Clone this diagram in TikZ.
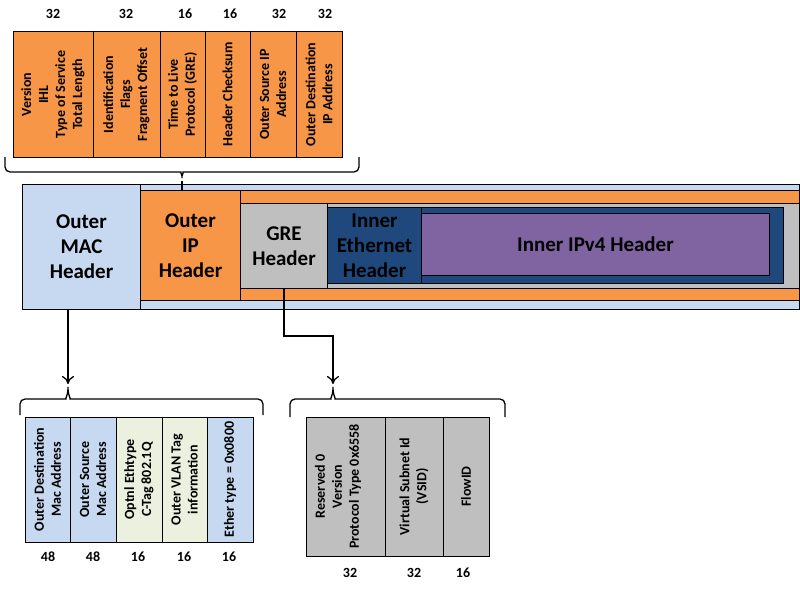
\documentclass[tikz,border=0pt]{standalone}
\usepackage{fontspec}
\setmainfont{Carlito}
\usetikzlibrary{arrows.meta}
\definecolor{macblue}{RGB}{198,217,241}
\definecolor{iporange}{RGB}{247,150,70}
\definecolor{gregray}{RGB}{191,191,191}
\definecolor{ethblue}{RGB}{31,73,125}
\definecolor{ippurple}{RGB}{128,100,162}
\definecolor{vlangreen}{RGB}{235,241,222}
\begin{document}
\begin{tikzpicture}[x=1pt,y=-1pt,
  hdr/.style={draw=black,line width=1pt,inner sep=0pt,align=center,font=\fontsize{21}{25}\selectfont\bfseries},
  fld/.style={draw=black,line width=1pt,inner sep=0pt,rotate=90,align=center,font=\fontsize{14}{17}\selectfont\bfseries},
  bits/.style={font=\fontsize{14}{17}\selectfont\bfseries},
  brace/.style={line width=1.3pt,rounded corners=5pt},
  link/.style={line width=1.3pt}]
          \useasboundingbox (0,0) rectangle (800,591);
          % packet
          \filldraw[fill=macblue,line width=1pt] (22,184) rectangle (799,309);
          \node[hdr,fill=macblue,anchor=north west,minimum width=118pt,minimum height=125pt] (mac) at (22,184) {Outer\\MAC\\Header};
          \filldraw[fill=iporange,line width=1pt] (140,190) rectangle (799,300);
          \node[hdr,fill=iporange,anchor=north west,minimum width=100pt,minimum height=110pt] (oip) at (140,190) {Outer\\IP\\Header};
          \filldraw[fill=gregray,line width=1pt] (240,203) rectangle (799,288);
          \node[hdr,fill=gregray,anchor=north west,minimum width=87pt,minimum height=85pt] (gre) at (240,203) {GRE\\Header};
          \filldraw[fill=ethblue,line width=1pt] (327,207) rectangle (783,283);
          \node[hdr,fill=ethblue,anchor=north west,minimum width=94pt,minimum height=76pt] (ieth) at (327,207) {Inner\\Ethernet\\Header};
          \node[hdr,fill=ippurple,anchor=north west,minimum width=348pt,minimum height=62pt] (iip) at (421,213) {Inner IPv4 Header};
          % outer ip fields
          \node[fld,fill=iporange,minimum width=125pt,minimum height=80pt] (ver) at (53,94.5) {Version\\IHL\\Type of  Service\\Total Length};
          \node[fld,fill=iporange,minimum width=125pt,minimum height=67pt] (ident) at (126.5,94.5) {Identification\\Flags\\Fragment Offset};
          \node[fld,fill=iporange,minimum width=125pt,minimum height=45pt] (ttl) at (182.5,94.5) {Time to Live\\Protocol (GRE)};
          \node[fld,fill=iporange,minimum width=125pt,minimum height=45pt] (csum) at (227.5,94.5) {Header Checksum};
          \node[fld,fill=iporange,minimum width=125pt,minimum height=46pt] (srcip) at (273,94.5) {Outer Source IP\\Address};
          \node[fld,fill=iporange,minimum width=125pt,minimum height=46pt] (dstip) at (319,94.5) {Outer Destination\\IP Address};
          \node[bits] (b1) at (53,14) {32};
          \node[bits] (b2) at (126,14) {32};
          \node[bits] (b3) at (185,14) {16};
          \node[bits] (b4) at (230,14) {16};
          \node[bits] (b5) at (279,14) {32};
          \node[bits] (b6) at (325,14) {32};
          \draw[brace] (5,157) -- (5,172) -- (176,172) .. controls (180,172) and (182,175) .. (182,181) .. controls (182,175) and (184,172) .. (188,172) -- (359,172) -- (359,157);
          \coordinate (ipbrace) at (182,181);
          \draw[link] (ipbrace) -- (ipbrace |- oip.north);
          % outer mac fields
          \node[fld,fill=macblue,minimum width=125pt,minimum height=45pt] (dmac) at (47.5,479.5) {Outer Destination\\Mac  Address};
          \node[fld,fill=macblue,minimum width=125pt,minimum height=46pt] (smac) at (93,479.5) {Outer Source\\Mac  Address};
          \node[fld,fill=vlangreen,minimum width=125pt,minimum height=46pt] (ctag) at (139,479.5) {Optnl Ethtype\\C-Tag 802.1Q};
          \node[fld,fill=vlangreen,minimum width=125pt,minimum height=45pt] (vlan) at (184.5,479.5) {Outer VLAN Tag\\information};
          \node[fld,fill=macblue,minimum width=125pt,minimum height=46pt] (etype) at (230,479.5) {Ether type = 0x0800};
          \node[bits] (m1) at (48,557) {48};
          \node[bits] (m2) at (93,557) {48};
          \node[bits] (m3) at (138,557) {16};
          \node[bits] (m4) at (184,557) {16};
          \node[bits] (m5) at (229,557) {16};
          \draw[brace] (20,415) -- (20,399) -- (61,399) .. controls (65,399) and (68,395) .. (68,384) .. controls (68,395) and (71,399) .. (75,399) -- (263,399) -- (263,415);
          \coordinate (macbrace) at (68,384);
          \draw[link,-{To[length=8pt,width=12pt]}] (mac.south -| macbrace) -- (macbrace);
          % gre fields
          \node[fld,fill=gregray,minimum width=139pt,minimum height=79pt] (gflags) at (345.5,486.5) {Reserved 0\\Version\\Protocol Type  0x6558\\~};
          \node[fld,fill=gregray,minimum width=139pt,minimum height=58pt] (vsid) at (414,486.5) {Virtual Subnet Id\\(VSID)};
          \node[fld,fill=gregray,minimum width=139pt,minimum height=46pt] (flow) at (466,486.5) {FlowID};
          \node[bits] (g1) at (350,573) {32};
          \node[bits] (g2) at (414,573) {32};
          \node[bits] (g3) at (463,573) {16};
          \draw[brace] (290,417) -- (290,399) -- (326,399) .. controls (330,399) and (333,395) .. (333,384) .. controls (333,395) and (336,399) .. (340,399) -- (505,399) -- (505,417);
          \coordinate (grebrace) at (333,384);
          \draw[link,-{To[length=8pt,width=12pt]}] (gre.south) -- ++(0,47) -| (grebrace);
\end{tikzpicture}
\end{document}
